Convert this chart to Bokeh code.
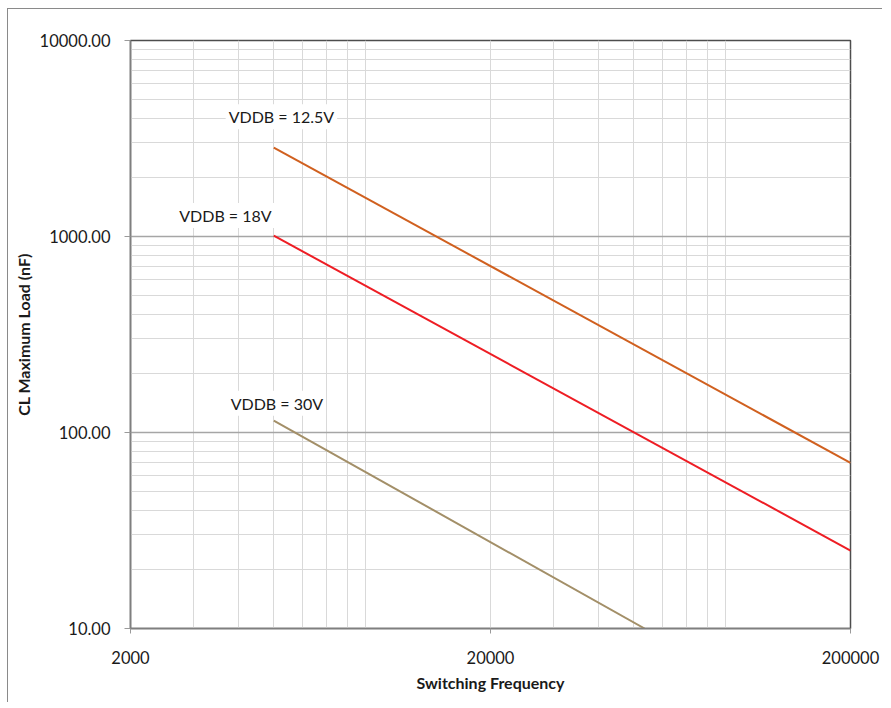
from bokeh.plotting import figure
from bokeh.models import FixedTicker, Label
from bokeh.embed import file_html
from bokeh.resources import INLINE

# ---- data ----
freq_125 = [5000, 200000]
load_125 = [2840, 70]
freq_18 = [5000, 200000]
load_18 = [1010, 25]
freq_30 = [5000, 53600]
load_30 = [115, 10]

series_names = ["VDDB = 12.5V", "VDDB = 18V", "VDDB = 30V"]

x_ticks = [2000, 20000, 200000]
x_tick_labels = ["2000", "20000", "200000"]
y_ticks = [10, 100, 1000, 10000]
y_tick_labels = ["10.00", "100.00", "1000.00", "10000.00"]
x_minor = [m * d for d in (1000, 10000, 100000) for m in range(2, 10) if 2000 < m * d < 200000]
y_minor = [m * d for d in (10, 100, 1000) for m in range(2, 10)]

# label anchor positions (data units)
label_x = [5250, 3670, 5100]
label_y = [4080, 1280, 141]

FONT = "Lato"

p = figure(
    x_axis_type="log", y_axis_type="log",
    x_range=(2000, 200000), y_range=(10, 10000),
    frame_width=720, frame_height=588,
    min_border_left=122, min_border_top=31, min_border_right=32, min_border_bottom=74,
    output_backend="svg", toolbar_location=None,
)
p.styles = {"border-left": "1px solid #8a8a8a", "border-top": "1px solid #8a8a8a",
            "margin-left": "7px", "margin-top": "8px"}

p.xaxis.ticker = FixedTicker(ticks=x_ticks, minor_ticks=x_minor)
p.yaxis.ticker = FixedTicker(ticks=y_ticks, minor_ticks=y_minor)
p.xaxis.major_label_overrides = {t: s for t, s in zip(x_ticks, x_tick_labels)}
p.yaxis.major_label_overrides = {t: s for t, s in zip(y_ticks, y_tick_labels)}

for ax in (p.xaxis[0], p.yaxis[0]):
    ax.major_label_text_font = FONT
    ax.major_label_text_font_size = "16.5px"
    ax.major_label_text_color = "#1a1a1a"
    ax.axis_label_text_font = FONT
    ax.axis_label_text_font_size = "16px"
    ax.axis_label_text_font_style = "bold"
    ax.axis_label_text_color = "#1a1a1a"
    ax.axis_line_color = "#7f7f7f"
    ax.axis_line_width = 1.5
    ax.major_tick_line_color = "#9a9a9a"
    ax.major_tick_in = 0
    ax.minor_tick_in = 0
    ax.minor_tick_out = 0

p.xaxis.axis_label = "Switching Frequency"
p.yaxis.axis_label = "CL Maximum Load (nF)"
p.xaxis.major_tick_out = 5
p.yaxis.major_tick_out = 6
p.xaxis.major_label_standoff = 17
p.yaxis.major_label_standoff = 14
p.xaxis.axis_label_standoff = 6
p.yaxis.axis_label_standoff = 4

p.xgrid.grid_line_color = "#d9d9d9"
p.xgrid.minor_grid_line_color = "#d9d9d9"
p.ygrid.grid_line_color = "#a6a6a6"
p.ygrid.grid_line_width = 1.5
p.ygrid.minor_grid_line_color = "#d9d9d9"

p.outline_line_color = "#4d4d4d"
p.outline_line_width = 1.5

p.line(freq_125, load_125, line_color="#D0601F", line_width=2)
p.line(freq_18, load_18, line_color="#EE1D24", line_width=2)
p.line(freq_30, load_30, line_color="#A38F68", line_width=2)

for name, lx, ly in zip(series_names, label_x, label_y):
    p.add_layout(Label(
        x=lx, y=ly, text=name, text_align="center", text_baseline="middle",
        text_font=FONT, text_font_size="16px", text_color="#1a1a1a",
        background_fill_color="white", padding=3,
    ))

open("out.html", "w").write(file_html(p, INLINE))
